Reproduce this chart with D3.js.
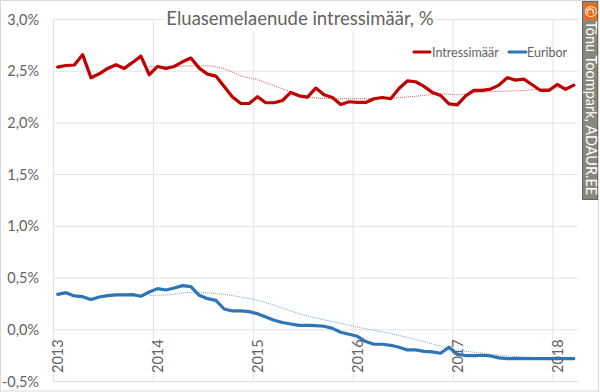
<!DOCTYPE html>
<html>
<head>
<meta charset="utf-8">
<script src="https://cdn.jsdelivr.net/npm/d3@7"></script>
<style>
    html, body { margin: 0; padding: 0; background: #fff; }
    svg { display: block; }
    text { font-family: Lato, "Open Sans", sans-serif; fill: #636363; }
</style>
</head>
<body>
<div id="chart"></div>
<script>

// Months are counted from January 2013 (0) to March 2018 (62)
const years = [2013, 2014, 2015, 2016, 2017, 2018];
const yTicks = [-0.5, 0, 0.5, 1, 1.5, 2, 2.5, 3];

const intressimaar = [
    2.54, 2.555, 2.56, 2.66, 2.437, 2.475, 2.527, 2.562, 2.527, 2.585, 2.646, 2.466,
    2.546, 2.527, 2.546, 2.591, 2.627, 2.53, 2.472, 2.453, 2.353, 2.25, 2.188, 2.188,
    2.253, 2.195, 2.195, 2.217, 2.295, 2.262, 2.25, 2.337, 2.272, 2.246, 2.179, 2.205,
    2.198, 2.198, 2.234, 2.246, 2.234, 2.333, 2.407, 2.398, 2.353, 2.295, 2.266, 2.185,
    2.175, 2.262, 2.314, 2.314, 2.327, 2.365, 2.437, 2.414, 2.424, 2.369, 2.314, 2.314,
    2.372, 2.324, 2.365
];
const euribor = [
    0.343, 0.359, 0.327, 0.32, 0.292, 0.317, 0.33, 0.337, 0.337, 0.34, 0.324, 0.365,
    0.398, 0.385, 0.404, 0.427, 0.417, 0.333, 0.301, 0.285, 0.201, 0.182, 0.182, 0.176,
    0.156, 0.124, 0.092, 0.07, 0.056, 0.043, 0.043, 0.04, 0.034, 0.014, -0.024, -0.043,
    -0.063, -0.114, -0.14, -0.14, -0.15, -0.169, -0.195, -0.195, -0.208, -0.214, -0.227, -0.169,
    -0.237, -0.249, -0.249, -0.246, -0.253, -0.272, -0.278, -0.278, -0.278, -0.278, -0.278, -0.278,
    -0.278, -0.278, -0.278
];

const trendMonths = [11, 13, 16, 18, 20, 22, 24, 26, 28, 30, 33, 36, 40, 44, 46, 48, 50, 52, 54, 56, 58, 60, 62];
const intressTrend = [2.547, 2.54, 2.552, 2.552, 2.523, 2.456, 2.417, 2.36, 2.3, 2.25, 2.234, 2.234, 2.24, 2.266, 2.282, 2.272, 2.292, 2.302, 2.308, 2.314, 2.327, 2.34, 2.353];
const euriborTrend = [0.333, 0.337, 0.362, 0.356, 0.343, 0.317, 0.285, 0.237, 0.182, 0.133, 0.08, 0.027, -0.037, -0.114, -0.159, -0.198, -0.217, -0.237, -0.253, -0.263, -0.27, -0.275, -0.278];

const red = "#c00000";
const blue = "#2e75b6";

let width = 600, height = 392;
let margin = {top: 19.5, right: 22, bottom: 10.5, left: 53.5};

let svg = d3.select("#chart").append("svg")
    .attr("width", width)
    .attr("height", height);

// Scales
let months = d3.range(intressimaar.length);
let x = d3.scaleBand()
    .domain(months)
    .range([margin.left, width - margin.right]);
let y = d3.scaleLinear()
    .domain([-0.5, 3])
    .range([height - margin.bottom, margin.top]);

let xMid = m => x(m) + x.bandwidth() / 2;
let yearMonth = year => (year - 2013) * 12;

// Outer frame
svg.append("rect")
    .attr("x", 0.5).attr("y", 0.5)
    .attr("width", width - 2).attr("height", height - 1.5)
    .attr("fill", "none")
    .attr("stroke", "#d9d9d9");

// Grid
svg.selectAll("line.h-grid")
    .data(yTicks)
    .enter().append("line")
    .attr("class", "h-grid")
    .attr("x1", margin.left).attr("x2", width - margin.right)
    .attr("y1", d => y(d)).attr("y2", d => y(d))
    .attr("stroke", "#e3e3e3")
    .attr("stroke-width", 1);

svg.selectAll("line.v-grid")
    .data(years)
    .enter().append("line")
    .attr("class", "v-grid")
    .attr("x1", d => x(yearMonth(d))).attr("x2", d => x(yearMonth(d)))
    .attr("y1", margin.top).attr("y2", height - margin.bottom)
    .attr("stroke", "#e3e3e3")
    .attr("stroke-width", 1);

// Y labels
svg.selectAll("text.y-label")
    .data(yTicks)
    .enter().append("text")
    .attr("class", "y-label")
    .attr("x", 39)
    .attr("y", d => y(d) + 5)
    .attr("text-anchor", "end")
    .style("font-size", "14.5px")
    .text(d => d3.format(".1f")(d).replace(".", ",").replace("\u2212", "-") + "%");

// X labels
svg.selectAll("text.x-label")
    .data(years)
    .enter().append("text")
    .attr("class", "x-label")
    .attr("transform", d => "translate(" + (x(yearMonth(d)) + 9.5) + ",373) rotate(-90)")
    .style("font-size", "14.5px")
    .text(d => d);

// Lines
let line = d3.line()
    .x((d, i) => xMid(i))
    .y(d => y(d));
let trendLine = d3.line()
    .x((d, i) => xMid(trendMonths[i]))
    .y(d => y(d))
    .curve(d3.curveMonotoneX);

[[intressTrend, red], [euriborTrend, blue]].forEach(s => {
    svg.append("path")
        .attr("d", trendLine(s[0]))
        .attr("fill", "none")
        .attr("stroke", s[1])
        .attr("stroke-width", 1)
        .attr("stroke-dasharray", "1 1")
        .attr("opacity", 0.65);
});

[[intressimaar, red], [euribor, blue]].forEach(s => {
    svg.append("path")
        .attr("d", line(s[0]))
        .attr("fill", "none")
        .attr("stroke", s[1])
        .attr("stroke-width", 3.2)
        .attr("stroke-linejoin", "round")
        .attr("stroke-linecap", "round");
});

// Title sits on a white box, cutting the top of the grid
svg.append("rect")
    .attr("x", 164).attr("y", 6)
    .attr("width", 272).attr("height", 25)
    .attr("fill", "#fff");
svg.append("text")
    .attr("x", 300).attr("y", 25)
    .attr("text-anchor", "middle")
    .style("font-size", "18.5px")
    .text("Eluasemelaenude intressimäär, %");

// Legend
let legendItems = [
    {name: "Intressimäär", color: red, x1: 414, x2: 430, tx: 432},
    {name: "Euribor", color: blue, x1: 509, x2: 526, tx: 527}
];
legendItems.forEach(d => {
    svg.append("line")
        .attr("x1", d.x1).attr("x2", d.x2)
        .attr("y1", 52).attr("y2", 52)
        .attr("stroke", d.color)
        .attr("stroke-width", 3)
        .attr("stroke-linecap", "round");
    svg.append("text")
        .attr("x", d.tx).attr("y", 56.5)
        .style("font-size", "12.5px")
        .text(d.name);
});

// Copyright strip on the right
svg.append("rect")
    .attr("x", 582.5).attr("y", 1.5)
    .attr("width", 15).attr("height", 198)
    .attr("fill", "#87877a")
    .attr("stroke", "#666");
svg.append("rect")
    .attr("x", 584).attr("y", 3)
    .attr("width", 13).attr("height", 17)
    .attr("fill", "#f26a12");
svg.append("text")
    .attr("transform", "translate(585,11.5) rotate(90)")
    .attr("text-anchor", "middle")
    .style("font-size", "14.5px")
    .style("fill", "#fff")
    .text("©");
svg.append("text")
    .attr("transform", "translate(586,21) rotate(90)")
    .style("font-size", "14.5px")
    .style("fill", "#fff")
    .text("Tõnu Toompark, ADAUR.EE");

</script>
</body>
</html>
